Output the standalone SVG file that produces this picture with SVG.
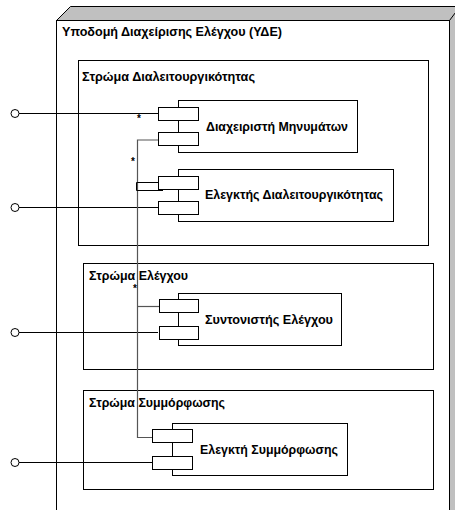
<svg xmlns="http://www.w3.org/2000/svg" width="455" height="510" viewBox="0 0 455 510">
  <style>
    .box { fill: #ffffff; stroke: #000000; stroke-width: 1; }
    .face { fill: #c0c0c0; stroke: #000000; stroke-width: 1; }
    .port { fill: #ffffff; stroke: #000000; stroke-width: 1; }
    .lbl { font-family: "Liberation Sans", Arial, sans-serif; font-size: 12px; font-weight: bold; fill: #000000; }
    .mult { font-family: "Liberation Sans", Arial, sans-serif; font-size: 10px; font-weight: bold; fill: #000000; }
    .wire { fill: none; stroke: #000000; stroke-width: 1; }
    .link { fill: none; stroke: #555555; stroke-width: 1.2; }
    .lolly { fill: #ffffff; stroke: #000000; stroke-width: 1; }
  </style>

  <rect x="0" y="0" width="455" height="510" fill="#ffffff"/>

  <!-- Deployment node: 3D box -->
  <g id="node-yde">
    <polygon class="face" points="56.5,20.5 70.5,6.5 460,6.5 460,20.5"/>
    <polygon class="face" points="449.5,20.5 460,6.5 460,520 449.5,520"/>
    <rect class="box" x="56.5" y="20.5" width="393" height="500"/>
    <text class="lbl" x="62" y="35.5" textLength="220" lengthAdjust="spacingAndGlyphs">Υποδομή Διαχείρισης Ελέγχου (ΥΔΕ)</text>
  </g>

  <!-- Layers -->
  <g id="layer-interop">
    <rect class="box" x="78.5" y="60.5" width="350" height="185"/>
    <text class="lbl" x="82" y="81" textLength="173" lengthAdjust="spacingAndGlyphs">Στρώμα Διαλειτουργικότητας</text>
  </g>
  <g id="layer-control">
    <rect class="box" x="83.5" y="263.5" width="350" height="106"/>
    <text class="lbl" x="89" y="279.5" textLength="99" lengthAdjust="spacingAndGlyphs">Στρώμα Ελέγχου</text>
  </g>
  <g id="layer-compliance">
    <rect class="box" x="83.5" y="390.5" width="350" height="99"/>
    <text class="lbl" x="89" y="407" textLength="136" lengthAdjust="spacingAndGlyphs">Στρώμα Συμμόρφωσης</text>
  </g>

  <!-- Provided interfaces (lollipops) -->
  <g id="connectors">
    <line class="wire" x1="19" y1="113.5" x2="158" y2="113.5"/>
    <circle class="lolly" cx="15" cy="113.5" r="4"/>
    <line class="wire" x1="19" y1="207.5" x2="158" y2="207.5"/>
    <circle class="lolly" cx="15" cy="207.5" r="4"/>
    <line class="wire" x1="19" y1="332.5" x2="158" y2="332.5"/>
    <circle class="lolly" cx="15" cy="332.5" r="4"/>
    <line class="wire" x1="19" y1="462.5" x2="152" y2="462.5"/>
    <circle class="lolly" cx="15" cy="462.5" r="4"/>

    <!-- internal bus between components -->
    <polyline class="link" points="162,140 137.5,140 137.5,437.5 152,437.5"/>
    <polyline class="wire" points="158,182.5 136.5,182.5 136.5,190.5 163,190.5"/>
    <line class="link" x1="137.5" y1="306.5" x2="159" y2="306.5"/>

    <text class="mult" x="137" y="122">*</text>
    <text class="mult" x="131" y="165">*</text>
    <text class="mult" x="133" y="292">*</text>
  </g>

  <!-- Components -->
  <g id="comp-message-manager">
    <rect class="box" x="178.5" y="100.5" width="179" height="52"/>
    <rect class="port" x="158.5" y="107.5" width="40" height="13"/>
    <rect class="port" x="158.5" y="132.5" width="40" height="13"/>
    <text class="lbl" x="206" y="130.5" textLength="142" lengthAdjust="spacingAndGlyphs">Διαχειριστή Μηνυμάτων</text>
  </g>
  <g id="comp-interop-controller">
    <rect class="box" x="178.5" y="169.5" width="215" height="52"/>
    <rect class="port" x="158.5" y="176.5" width="40" height="13"/>
    <rect class="port" x="158.5" y="201.5" width="40" height="13"/>
    <text class="lbl" x="205" y="199" textLength="178" lengthAdjust="spacingAndGlyphs">Ελεγκτής Διαλειτουργικότητας</text>
  </g>
  <g id="comp-coordinator">
    <rect class="box" x="178.5" y="293.5" width="163" height="52"/>
    <rect class="port" x="159.5" y="299.5" width="39" height="13"/>
    <rect class="port" x="159.5" y="326.5" width="39" height="13"/>
    <text class="lbl" x="205" y="324" textLength="128" lengthAdjust="spacingAndGlyphs">Συντονιστής Ελέγχου</text>
  </g>
  <g id="comp-compliance-checker">
    <rect class="box" x="172.5" y="423.5" width="175" height="52"/>
    <rect class="port" x="152.5" y="429.5" width="40" height="13"/>
    <rect class="port" x="152.5" y="456.5" width="40" height="13"/>
    <text class="lbl" x="200" y="454" textLength="138" lengthAdjust="spacingAndGlyphs">Ελεγκτή Συμμόρφωσης</text>
  </g>
</svg>
